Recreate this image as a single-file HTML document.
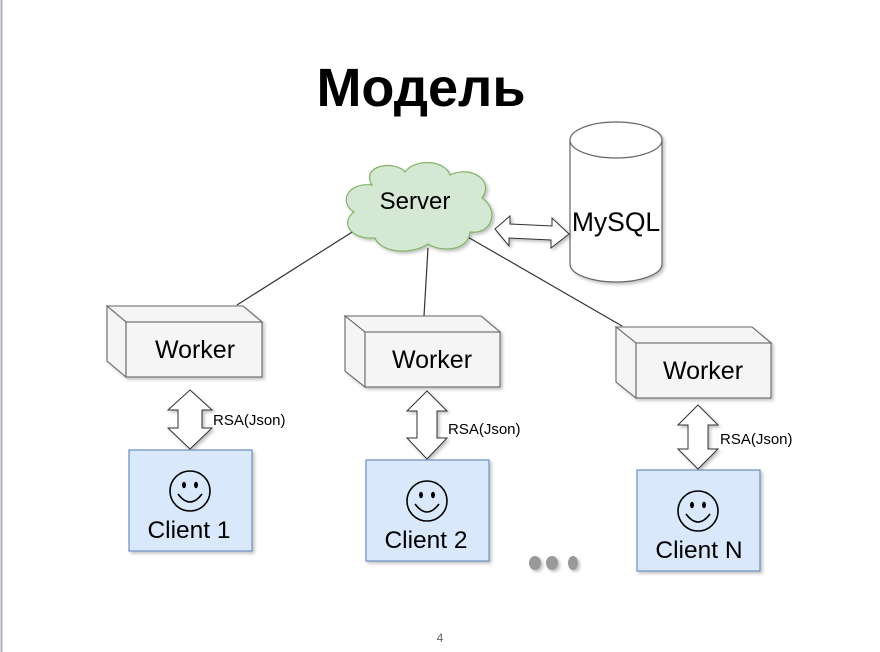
<!DOCTYPE html>
<html><head><meta charset="utf-8"><style>
body{margin:0;background:#fff;}
svg{display:block;font-family:"Liberation Sans",sans-serif;}
</style></head><body>
<svg width="880" height="652" viewBox="0 0 880 652">
<defs>
<filter id="sh" x="-10%" y="-10%" width="130%" height="130%"><feDropShadow dx="2" dy="2" stdDeviation="1.5" flood-color="#000" flood-opacity="0.25"/></filter>
</defs>
<line x1="1.5" y1="0" x2="1.5" y2="652" stroke="#a9b0bb" stroke-width="2"/>
<text x="421" y="106" font-size="54" font-weight="bold" text-anchor="middle" fill="#000">Модель</text>

<g stroke="#333" stroke-width="1.2">
<line x1="357" y1="229" x2="237" y2="305"/>
<line x1="428" y1="248" x2="424" y2="316"/>
<line x1="466" y1="236" x2="622" y2="326"/>
</g>

<path filter="url(#sh)" fill="#d5e8d4" stroke="#82b366" stroke-width="1.2" d="M372,185 C360,165 395,160 405,172 C415,158 445,160 450,175 C470,165 495,180 482,198 C500,210 492,235 470,232 C468,252 440,252 428,244 C410,256 380,252 375,238 C350,240 340,222 354,212 C338,202 348,182 372,185 Z"/>
<text x="415" y="209" font-size="24" text-anchor="middle">Server</text>

<g filter="url(#sh)">
<path d="M570,140 L570,264 A46,18 0 0 0 662,264 L662,140 Z" fill="#fff" stroke="#666" stroke-width="1.2"/>
<ellipse cx="616" cy="140" rx="46" ry="18" fill="#fff" stroke="#666" stroke-width="1.2"/>
</g>
<text x="616" y="231" font-size="26.5" text-anchor="middle">MySQL</text>

<path filter="url(#sh)" fill="#fff" stroke="#333" stroke-width="1" d="M495,229 L510,216 L510,224 L552,226 L552,218 L569,234 L551,248 L551,240 L509,238 L509,246 Z"/>

<g stroke="#666" stroke-width="1.1" fill="#f5f5f5" filter="url(#sh)">
<path d="M107,306 L243,306 L262,322 L126,322 Z"/>
<path d="M107,306 L126,322 L126,377 L107,361 Z"/>
<rect x="126" y="322" width="136" height="55"/>
</g>
<text x="195" y="358" font-size="25" text-anchor="middle">Worker</text>
<g stroke="#666" stroke-width="1.1" fill="#f5f5f5" filter="url(#sh)">
<path d="M345,316 L481,316 L500,332 L365,332 Z"/>
<path d="M345,316 L365,332 L365,387 L345,371 Z"/>
<rect x="365" y="332" width="135" height="55"/>
</g>
<text x="432" y="368" font-size="25" text-anchor="middle">Worker</text>
<g stroke="#666" stroke-width="1.1" fill="#f5f5f5" filter="url(#sh)">
<path d="M616,327 L752,327 L771,343 L636,343 Z"/>
<path d="M616,327 L636,343 L636,398 L616,382 Z"/>
<rect x="636" y="343" width="135" height="55"/>
</g>
<text x="703" y="379" font-size="25" text-anchor="middle">Worker</text>

<g fill="#fff" stroke="#333" stroke-width="1" filter="url(#sh)">
<path d="M190,390 L212,410 L202,410 L202,428 L212,428 L190,449 L168,428 L178,428 L178,410 L168,410 Z"/>
<path d="M427,391 L447,411 L437,411 L437,438 L447,438 L427,459 L407,438 L417,438 L417,411 L407,411 Z"/>
<path d="M698,405 L718,425 L708,425 L708,449 L718,449 L698,469 L678,449 L688,449 L688,425 L678,425 Z"/>
</g>
<text x="213" y="425" font-size="15">RSA(Json)</text>
<text x="448" y="434" font-size="15">RSA(Json)</text>
<text x="720" y="444" font-size="15">RSA(Json)</text>

<g fill="#dae8fc" stroke="#6c8ebf" stroke-width="1.2" filter="url(#sh)">
<rect x="129" y="450" width="123" height="101"/>
<rect x="366" y="460" width="123" height="101"/>
<rect x="637" y="470" width="123" height="101"/>
</g>
<g fill="none" stroke="#000" stroke-width="1.6">
<circle cx="190" cy="491" r="20"/><path d="M178,494 Q190,510 202,494"/>
<circle cx="427" cy="501" r="20"/><path d="M415,504 Q427,520 439,504"/>
<circle cx="698" cy="511" r="20"/><path d="M686,514 Q698,530 710,514"/>
</g>
<g fill="#000">
<ellipse cx="184" cy="485" rx="2" ry="3.2"/><ellipse cx="196" cy="485" rx="2" ry="3.2"/>
<ellipse cx="421" cy="495" rx="2" ry="3.2"/><ellipse cx="433" cy="495" rx="2" ry="3.2"/>
<ellipse cx="692" cy="505" rx="2" ry="3.2"/><ellipse cx="704" cy="505" rx="2" ry="3.2"/>
</g>
<text x="189" y="538" font-size="24.5" text-anchor="middle">Client 1</text>
<text x="426" y="548" font-size="24.5" text-anchor="middle">Client 2</text>
<text x="699" y="558" font-size="24.5" text-anchor="middle">Client N</text>

<g fill="#999" filter="url(#sh)">
<ellipse cx="535" cy="563" rx="6" ry="7"/><ellipse cx="552" cy="563" rx="6" ry="7"/><ellipse cx="573" cy="563" rx="5" ry="7"/>
</g>
<text x="440" y="642" font-size="12" fill="#666" text-anchor="middle">4</text>
</svg>
</body></html>
